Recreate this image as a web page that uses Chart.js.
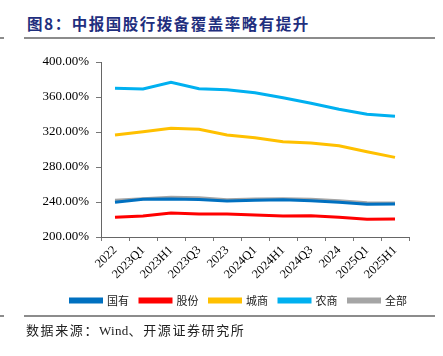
<!DOCTYPE html>
<html>
<head>
<meta charset="utf-8">
<script src="https://cdn.jsdelivr.net/npm/chart.js@4.4.0/dist/chart.umd.min.js"></script>
<style>
  html, body { margin: 0; padding: 0; background: #fff; }
  #wrap { position: relative; width: 443px; height: 356px; overflow: hidden; }
  #title { position: absolute; left: 27px; top: 13px; font-family: "Noto Sans CJK SC", sans-serif; font-weight: bold; font-size: 15.5px; letter-spacing: 1.5px; color: #1f2f7e; white-space: nowrap; line-height: 20px; }
  .rule { position: absolute; height: 2px; background: #8c8c8c; }
  #source { position: absolute; left: 26px; top: 321px; font-family: "Noto Sans CJK SC", sans-serif; font-size: 13px; letter-spacing: 1.6px; color: #222; white-space: nowrap; line-height: 18px; }
  #source .en { font-family: "Liberation Serif", serif; letter-spacing: 0.3px; }
  canvas { position: absolute; left: 0; top: 0; }
</style>
</head>
<body>
<div id="wrap">
  <div id="title">图8：中报国股行拨备覆盖率略有提升</div>
  <div class="rule" style="left:0;width:4px;top:37px;"></div>
  <div class="rule" style="left:24px;width:411px;top:37px;"></div>
  <canvas id="c" width="443" height="356"></canvas>
  <div class="rule" style="left:0;width:4px;top:315px;"></div>
  <div class="rule" style="left:24px;width:411px;top:315px;"></div>
  <div id="source">数据来源：<span class="en">Wind</span>、开源证券研究所</div>
</div>
<script>
const categories = ["2022","2023Q1","2023H1","2023Q3","2023","2024Q1","2024H1","2024Q3","2024","2025Q1","2025H1"];
const guoyou  = [239.6, 243.1, 243.4, 242.9, 241.1, 241.9, 242.6, 241.5, 239.6, 237.4, 237.7];
const gufen   = [222.5, 224.0, 227.4, 226.3, 226.3, 225.1, 224.0, 224.3, 222.5, 220.2, 220.6];
const chengshang = [316.6, 320.4, 324.2, 323.1, 316.6, 313.5, 308.9, 307.4, 304.3, 297.5, 291.0];
const nongshang  = [370.0, 369.1, 376.8, 369.5, 368.3, 364.9, 359.2, 352.8, 345.9, 340.2, 337.9];
const quanbu  = [241.9, 243.8, 245.4, 245.0, 242.6, 243.4, 243.8, 243.1, 241.5, 239.2, 238.9];
const yTicks = [200, 240, 280, 320, 360, 400];

function ds(label, data, color) {
  return { label, data, borderColor: color, backgroundColor: color, borderWidth: 3, pointRadius: 0, tension: 0, fill: false, yAxisID: 'y' };
}

new Chart(document.getElementById('c'), {
  type: 'line',
  data: {
    labels: categories,
    datasets: [
      ds('国有', guoyou, '#0070c0'),
      ds('股份', gufen, '#ff0000'),
      ds('城商', chengshang, '#ffc000'),
      ds('农商', nongshang, '#00b0f0'),
      ds('全部', quanbu, '#a5a5a5')
    ]
  },
  options: {
    responsive: false,
    animation: false,
    layout: { padding: { left: 0, right: 25, top: 62, bottom: 40 } },
    plugins: {
      title: { display: false },
      tooltip: { enabled: false },
      legend: {
        position: 'bottom',
        align: 'end',
        labels: {
          boxWidth: 31, boxHeight: 3, padding: 11,
          color: '#222',
          font: { family: '"Noto Sans CJK SC", sans-serif', size: 11 }
        }
      }
    },
    scales: {
      x: {
        offset: true,
        grid: { display: true, offset: true, drawOnChartArea: false, drawTicks: true, tickLength: 4, color: '#777' },
        border: { display: true, color: '#666', width: 1 },
        ticks: { minRotation: 45, maxRotation: 45, autoSkip: false, padding: 2, color: '#000', font: { family: '"Liberation Serif", serif', size: 12.5 } },
        afterFit: s => { s.height = 47; }
      },
      y: {
        min: 200, max: 400,
        afterBuildTicks: s => { s.ticks = yTicks.map(v => ({ value: v })); },
        grid: { display: true, drawOnChartArea: false, drawTicks: true, tickLength: 5, color: '#777' },
        border: { display: true, color: '#666', width: 1 },
        ticks: { padding: 7, color: '#000', font: { family: '"Liberation Serif", serif', size: 13 }, callback: v => v.toFixed(2) + '%' },
        afterFit: s => { s.width = 101; }
      },
      y2: {
        type: 'linear',
        position: 'right',
        display: true,
        min: 200, max: 400,
        grid: { display: false, drawTicks: false },
        border: { display: false },
        ticks: { display: false },
        afterFit: s => { s.width = 9; }
      }
    }
  }
});
</script>
</body>
</html>
